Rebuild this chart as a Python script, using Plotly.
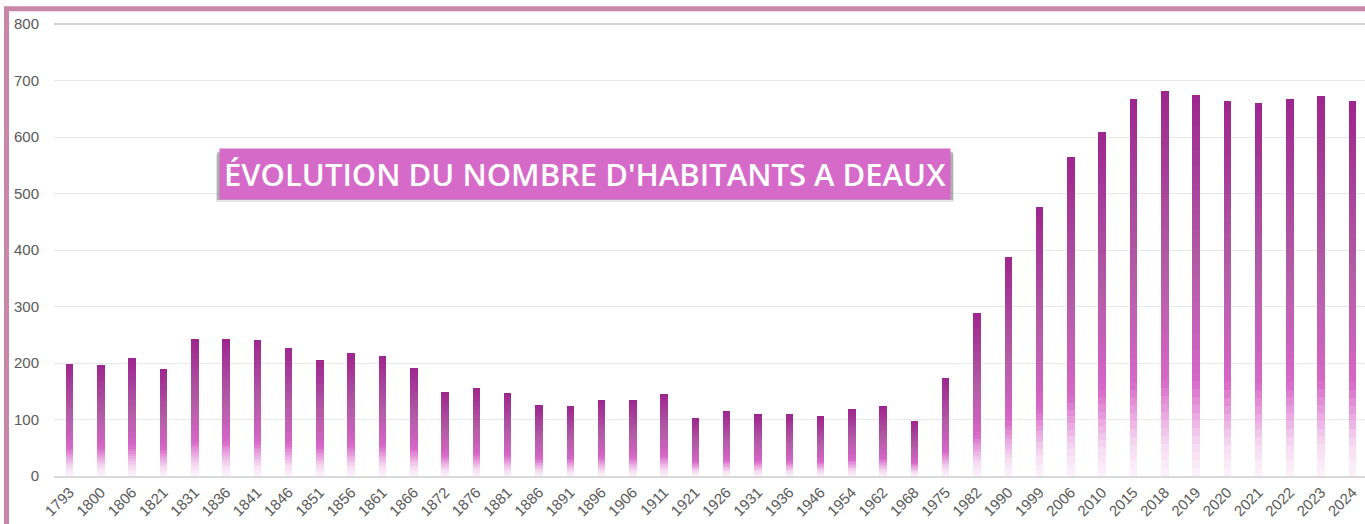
import plotly.graph_objects as go

years = ["1793", "1800", "1806", "1821", "1831", "1836", "1841", "1846", "1851", "1856",
         "1861", "1866", "1872", "1876", "1881", "1886", "1891", "1896", "1906", "1911",
         "1921", "1926", "1931", "1936", "1946", "1954", "1962", "1968", "1975", "1982",
         "1990", "1999", "2006", "2010", "2015", "2018", "2019", "2020", "2021", "2022",
         "2023", "2024"]
population = [199, 197, 209, 190, 243, 243, 241, 227, 206, 217,
              213, 192, 149, 156, 147, 126, 124, 135, 135, 146,
              103, 115, 109, 109, 105, 119, 124, 97, 173, 288,
              388, 476, 564, 608, 667, 681, 674, 663, 661, 667,
              672, 663]
y_ticks = [0, 100, 200, 300, 400, 500, 600, 700, 800]
title_text = "ÉVOLUTION DU NOMBRE D'HABITANTS A DEAUX"

# gradient stops (fraction of bar height from base, rgb)
stops = [
    (0.00, (253, 244, 252)),
    (0.08, (246, 220, 242)),
    (0.16, (234, 168, 225)),
    (0.25, (214, 104, 200)),
    (0.33, (204, 98, 190)),
    (0.55, (178, 92, 166)),
    (0.80, (166, 62, 153)),
    (1.00, (158, 38, 142)),
]


def color_at(f):
    for (f0, c0), (f1, c1) in zip(stops[:-1], stops[1:]):
        if f0 <= f <= f1:
            t = (f - f0) / (f1 - f0)
            c = [round(a + (b - a) * t) for a, b in zip(c0, c1)]
            return "rgb(%d,%d,%d)" % tuple(c)
    return "rgb(%d,%d,%d)" % stops[-1][1]


N = 48
fig = go.Figure()
for k in range(N):
    f = (k + 0.5) / N
    fig.add_trace(go.Bar(
        x=years,
        y=[v / N for v in population],
        width=0.24,
        marker=dict(color=color_at(f), line=dict(width=0)),
        hoverinfo="skip",
        showlegend=False,
    ))

# plot area geometry (px) for decoration placement
L, R_px, T, B = 54, 1365, 24, 476
W, H = R_px - L, B - T


def px_x(p):
    return (p - L) / W


def px_y(p):
    return (B - p) / H


box_l, box_r, box_t, box_b = 217, 953, 150, 197

fig.update_layout(
    barmode="stack",
    bargap=0,
    width=1365,
    height=524,
    margin=dict(l=L, r=0, t=T, b=524 - B),
    paper_bgcolor="white",
    plot_bgcolor="white",
    font=dict(family="Liberation Sans, Arial, sans-serif", color="#595959", size=15),
    xaxis=dict(
        type="category",
        range=[-0.5, 41.4],
        tickangle=-45,
        tickfont=dict(size=15, color="#595959"),
        showgrid=False,
        showline=True,
        linecolor="#D9D9D9",
        linewidth=1.5,
        ticks="",
    ),
    yaxis=dict(
        range=[0, 800],
        tickvals=y_ticks,
        tickfont=dict(size=15, color="#595959"),
        showgrid=True,
        gridcolor="#E8E8E8",
        gridwidth=1,
        zeroline=False,
        ticks="",
        ticklabelstandoff=14,
    ),
    hovermode=False,
    shapes=[
        dict(type="line", xref="paper", yref="paper", x0=0, x1=1.02, y0=1, y1=1,
             line=dict(color="#C4C4C4", width=1.5)),
        dict(type="rect", xref="paper", yref="paper",
             x0=px_x(6.5), x1=1.1, y0=-0.3, y1=px_y(8.8),
             line=dict(color="#C887A8", width=5), fillcolor="rgba(0,0,0,0)"),
        # soft drop shadow behind the title box (mostly below)
        dict(type="rect", xref="paper", yref="paper", layer="above",
             x0=px_x(box_l - 1), x1=px_x(box_r + 1), y0=px_y(box_b + 5), y1=px_y(box_t + 4),
             line=dict(width=0), fillcolor="rgba(80,80,80,0.15)"),
        dict(type="rect", xref="paper", yref="paper", layer="above",
             x0=px_x(box_l), x1=px_x(box_r), y0=px_y(box_b + 3), y1=px_y(box_t + 2),
             line=dict(width=0), fillcolor="rgba(80,80,80,0.35)"),
    ],
    annotations=[
        dict(text=title_text, xref="paper", yref="paper",
             x=px_x((box_l + box_r) / 2), y=px_y((box_t + box_b) / 2),
             xanchor="center", yanchor="middle", showarrow=False,
             font=dict(family="Open Sans", size=31, color="white", weight=600),
             bgcolor="#D56AC8", borderpad=4),
    ],
)

fig.write_html("out.html", config={"displayModeBar": False},
               post_script="document.body.style.margin='0';")
